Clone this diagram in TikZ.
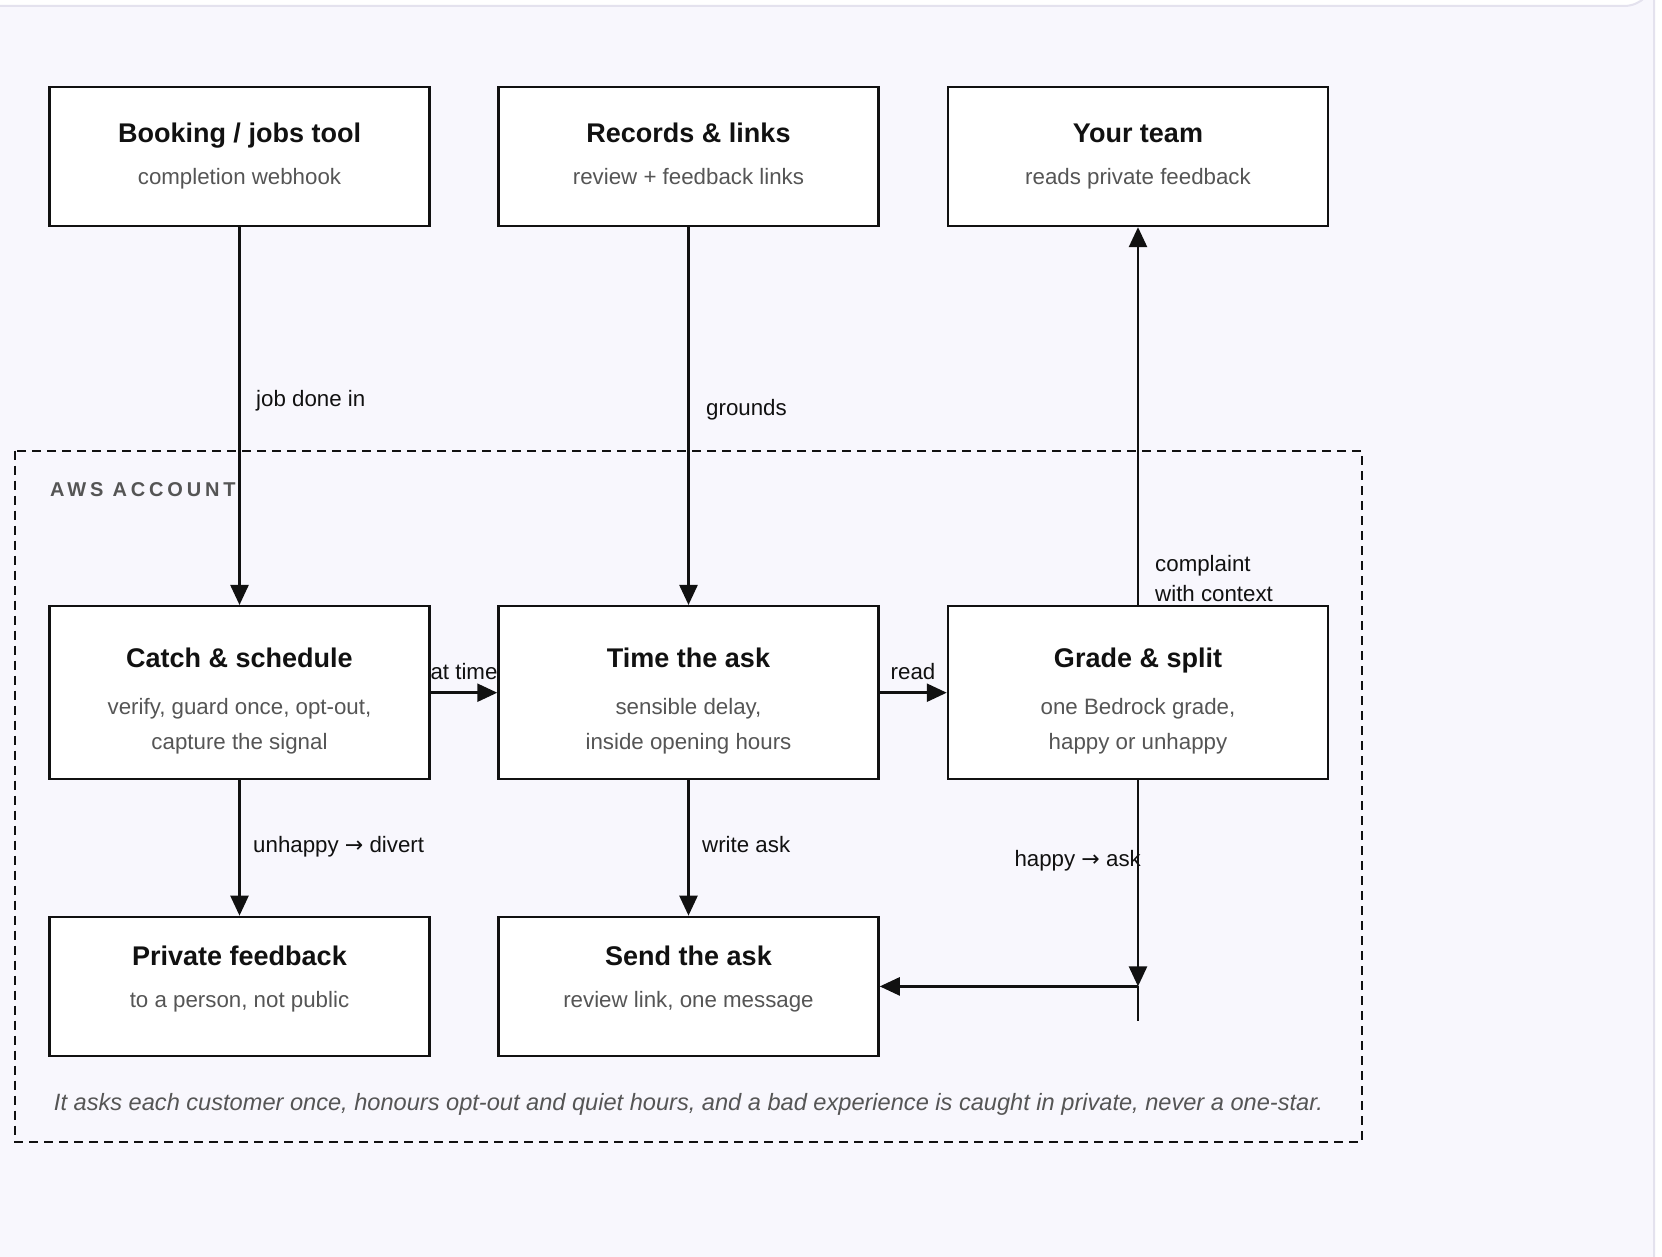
\documentclass[tikz,border=0pt]{standalone}
\usepackage{fontspec}
\setmainfont{Liberation Sans}
\newfontfamily\arrowfont{DejaVu Sans}
\usetikzlibrary{arrows.meta}
\definecolor{ink}{HTML}{111111}
\definecolor{muted}{HTML}{555555}
\definecolor{canvas}{HTML}{F8F7FD}
\definecolor{frameline}{HTML}{E4E2EE}
\newcommand{\rarr}{{\arrowfont\fontsize{22}{26}\selectfont →}}
\tikzset{
  stage/.style={draw=ink, line width=2.5pt, fill=white, minimum width=380pt, inner sep=0pt},
  tallstage/.style={stage, minimum height=173pt},
  shortstage/.style={stage, minimum height=139pt},
  heading/.style={font=\bfseries\fontsize{27}{31}\selectfont, text=ink, inner sep=0pt, anchor=base},
  detail/.style={font=\fontsize{22.3}{26}\selectfont, text=muted, inner sep=0pt, anchor=base},
  flowlabel/.style={font=\fontsize{22.3}{26}\selectfont, text=ink, inner sep=0pt, anchor=base},
  flow/.style={draw=ink, line width=2.5pt, -{Triangle[length=20pt,width=18pt]}},
  zone/.style={draw=ink, line width=2pt, dash pattern=on 9pt off 6pt}
}
\begin{document}
\begin{tikzpicture}[x=1pt,y=-1pt]
\useasboundingbox (0,0) rectangle (1662,1257);
\fill[white] (0,0) rectangle (1662,1257);
\draw[frameline, line width=2pt, fill=canvas] (-40,6) -- (1624,6) arc[start angle=90, end angle=0, radius=30] -- (1654,1300) -- (-40,1300) -- cycle;

% account boundary
\draw[zone] (15,450.5) rectangle (1362,1141.5);
\node[anchor=base west, font=\bfseries\fontsize{20}{24}\selectfont\addfontfeature{LetterSpace=19}, text=muted, inner sep=0pt] (acct) at (50,496) {AWS ACCOUNT};

% outside systems
\node[shortstage] (booking) at (239.5,156.4) {};
\node[heading] (bookingT) at (239.5,143) {Booking / jobs tool};
\node[detail] (bookingD) at (239.5,184.5) {completion webhook};

\node[shortstage] (records) at (688.5,156.4) {};
\node[heading] (recordsT) at (688.5,143) {Records \& links};
\node[detail] (recordsD) at (688.5,184.5) {review + feedback links};

\node[shortstage] (team) at (1138,156.4) {};
\node[heading] (teamT) at (1138,143) {Your team};
\node[detail] (teamD) at (1138,184.5) {reads private feedback};

% inside the account
\node[tallstage] (catch) at (239.5,692.7) {};
\node[heading] (catchT) at (239.5,667.4) {Catch \& schedule};
\node[detail] (catchD1) at (239.5,714.4) {verify, guard once, opt-out,};
\node[detail] (catchD2) at (239.5,749.4) {capture the signal};

\node[tallstage] (timing) at (688.5,692.7) {};
\node[heading] (timingT) at (688.5,667.4) {Time the ask};
\node[detail] (timingD1) at (688.5,714.4) {sensible delay,};
\node[detail] (timingD2) at (688.5,749.4) {inside opening hours};

\node[tallstage] (grade) at (1138,692.7) {};
\node[heading] (gradeT) at (1138,667.4) {Grade \& split};
\node[detail] (gradeD1) at (1138,714.4) {one Bedrock grade,};
\node[detail] (gradeD2) at (1138,749.4) {happy or unhappy};

\node[shortstage] (private) at (239.5,986.4) {};
\node[heading] (privateT) at (239.5,965.4) {Private feedback};
\node[detail] (privateD) at (239.5,1007.4) {to a person, not public};

\node[shortstage] (send) at (688.5,986.4) {};
\node[heading] (sendT) at (688.5,965.4) {Send the ask};
\node[detail] (sendD) at (688.5,1007.4) {review link, one message};

% connectors
\draw[flow] (booking.south) -- (catch.north);
\node[flowlabel, anchor=base west] (l1) at (256,406) {job done in};

\draw[flow] (records.south) -- (timing.north);
\node[flowlabel, anchor=base west] (l2) at (706,415) {grounds};

\draw[flow] (grade.north) -- (team.south);
\node[flowlabel, anchor=base west] (l3) at (1155,571) {complaint};
\node[flowlabel, anchor=base west] (l4) at (1155,601) {with context};

\draw[flow] (catch.east) -- (timing.west);
\node[flowlabel] (l5) at (464,679) {at time};

\draw[flow] (timing.east) -- (grade.west);
\node[flowlabel] (l6) at (913,679) {read};

\draw[flow] (catch.south) -- (private.north);
\node[flowlabel, anchor=base west] (l7) at (253,852) {unhappy \rarr{} divert};

\draw[flow] (timing.south) -- (send.north);
\node[flowlabel, anchor=base west] (l8) at (702,852) {write ask};

\coordinate (turn) at (1138,986.4);
\coordinate (stub) at (1138,1021);
\draw[flow] (grade.south) -- (turn);
\draw[ink, line width=2pt] (turn) -- (stub);
\draw[flow] (turn) -- (send.east);
\node[flowlabel, anchor=base east] (l9) at (1141,866) {happy \rarr{} ask};

% footnote
\node[font=\itshape\fontsize{23.6}{28}\selectfont, text=muted, inner sep=0pt, anchor=base] (note) at (688.5,1110.5) {It asks each customer once, honours opt-out and quiet hours, and a bad experience is caught in private, never a one-star.};
\end{tikzpicture}
\end{document}
